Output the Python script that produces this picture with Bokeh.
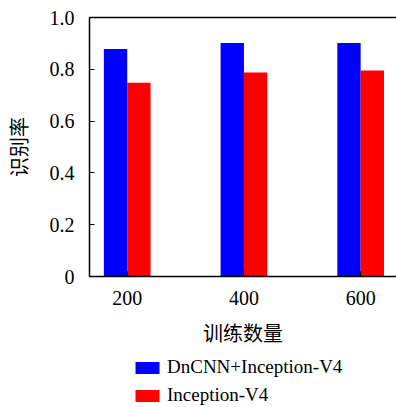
from bokeh.plotting import figure
from bokeh.layouts import column
from bokeh.models import (ColumnDataSource, FixedTicker, LinearAxis, Legend, LegendItem, Range1d)
from bokeh.transform import dodge
from bokeh.embed import file_html
from bokeh.resources import INLINE

categories = ["200", "400", "600"]
dncnn_inception = [0.878, 0.902, 0.902]
inception = [0.748, 0.788, 0.795]
y_ticks = [0, 0.2, 0.4, 0.6, 0.8, 1.0]
y_tick_labels = ["0", "0.2", "0.4", "0.6", "0.8", "1.0"]
series_names = ["DnCNN+Inception-V4", "Inception-V4"]
series_colors = ["#0000FF", "#FF0000"]

xs = list(range(1, len(categories) + 1))
src = ColumnDataSource(dict(x=xs, a=dncnn_inception, b=inception))

SERIF = "Liberation Serif"
CJK = "Noto Sans CJK SC"

p = figure(width=396, height=351, output_backend="svg", toolbar_location=None,
           x_range=Range1d(0.677, 3.307), y_range=Range1d(0, 1.0),
           min_border_left=87, min_border_right=0, min_border_top=17, min_border_bottom=75,
           x_axis_location=None, y_axis_location=None)
p.outline_line_color = None
p.grid.visible = False
p.background_fill_color = "white"
p.border_fill_color = "white"

r1 = p.vbar(x=dodge("x", -0.1), top="a", width=0.2, source=src, fill_color=series_colors[0], line_color=None)
r2 = p.vbar(x=dodge("x", 0.1), top="b", width=0.2, source=src, fill_color=series_colors[1], line_color=None)

def style(ax):
    ax.axis_line_color = "black"
    ax.axis_line_width = 1.5
    ax.major_tick_line_color = "black"
    ax.major_tick_line_width = 1.2
    ax.major_tick_in = 5
    ax.major_tick_out = 0
    ax.minor_tick_line_color = None
    ax.major_label_text_font = SERIF
    ax.major_label_text_font_size = "20px"
    ax.major_label_text_color = "black"
    ax.axis_label_text_font = CJK
    ax.axis_label_text_font_size = "20px"
    ax.axis_label_text_font_style = "normal"
    ax.axis_label_text_color = "black"

xa = LinearAxis(ticker=FixedTicker(ticks=xs),
                major_label_overrides={x: c for x, c in zip(xs, categories)},
                axis_label="训练数量")
style(xa)
xa.major_label_standoff = 14
xa.axis_label_standoff = 10
p.add_layout(xa, "below")

ya = LinearAxis(ticker=FixedTicker(ticks=y_ticks),
                major_label_overrides={t: l for t, l in zip(y_ticks, y_tick_labels)},
                axis_label="识别率")
style(ya)
ya.major_label_standoff = 15
ya.axis_label_standoff = 14
p.add_layout(ya, "left")

top = LinearAxis(ticker=FixedTicker(ticks=[]), major_label_text_font_size="0px")
top.axis_line_color = "black"
top.axis_line_width = 1.5
top.major_tick_line_color = None
top.minor_tick_line_color = None
p.add_layout(top, "above")

# legend strip below the chart (frame aligned with the chart frame by the column layout)
lg = figure(width=396, height=56, output_backend="svg", toolbar_location=None,
            x_range=Range1d(0, 1), y_range=Range1d(0, 1),
            min_border=0, x_axis_location=None, y_axis_location=None)
lg.outline_line_color = None
lg.grid.visible = False
lg.border_fill_color = "white"
k1 = lg.vbar(x=[5], top=[1], width=0.1, fill_color=series_colors[0], line_color=None)
k2 = lg.vbar(x=[5], top=[1], width=0.1, fill_color=series_colors[1], line_color=None)

legend = Legend(items=[LegendItem(label=series_names[0], renderers=[k1]),
                       LegendItem(label=series_names[1], renderers=[k2])],
                location=(43, 1), orientation="vertical")
legend.glyph_width = 30
legend.glyph_height = 15
legend.label_height = 20
legend.spacing = 6
legend.label_standoff = 5
legend.padding = 0
legend.margin = 0
legend.border_line_color = None
legend.background_fill_alpha = 0
legend.label_text_font = SERIF
legend.label_text_font_size = "19px"
legend.label_text_color = "black"
lg.add_layout(legend)

layout = column(p, lg, spacing=0)
open("out.html", "w").write(file_html(layout, INLINE))
